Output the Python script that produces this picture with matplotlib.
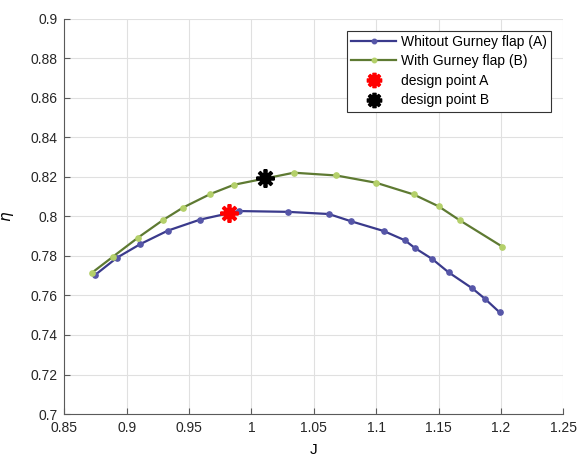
import numpy as np
import matplotlib.pyplot as plt

plt.rcParams['font.family'] = ['Liberation Sans', 'DejaVu Sans']

# efficiency curve without Gurney flap (A)
J_a = [0.875, 0.892, 0.911, 0.933, 0.959, 0.990, 1.029, 1.062, 1.080, 1.106,
       1.123, 1.131, 1.145, 1.158, 1.177, 1.187, 1.199]
eta_a = [0.7705, 0.7790, 0.7860, 0.7928, 0.7984, 0.8027, 0.8023, 0.8012, 0.7975,
         0.7926, 0.7879, 0.7840, 0.7784, 0.7717, 0.7636, 0.7584, 0.7514]

# efficiency curve with Gurney flap (B)
J_b = [0.872, 0.889, 0.909, 0.929, 0.945, 0.967, 0.986, 1.034, 1.068, 1.100,
       1.130, 1.150, 1.167, 1.201]
eta_b = [0.7714, 0.7796, 0.7892, 0.7981, 0.8044, 0.8113, 0.8160, 0.8221, 0.8207,
         0.8170, 0.8111, 0.8051, 0.7980, 0.7847]

design_a = (0.982, 0.8017)
design_b = (1.0105, 0.8195)

fig = plt.figure(figsize=(5.79, 4.57), dpi=100)
ax = fig.add_axes([0.111, 0.094, 0.862, 0.865])

ax.plot(J_a, eta_a, '-o', color='#3a3a8c', lw=1.6, ms=3.8,
        mfc='#5656a8', mec='#5656a8', label='Whitout Gurney flap (A)')
ax.plot(J_b, eta_b, '-o', color='#5e7a32', lw=1.6, ms=3.8,
        mfc='#b4d06a', mec='#b4d06a', label='With Gurney flap (B)')
ax.plot(*design_a, ls='none', marker=(8, 2, 0), color='red', ms=13, mew=2.7,
        label='design point A')
ax.plot(*design_b, ls='none', marker=(8, 2, 0), color='black', ms=13, mew=2.7,
        label='design point B')

ax.set_xlim(0.85, 1.25)
ax.set_ylim(0.7, 0.9)
ax.set_xticks(np.arange(0.85, 1.2501, 0.05))
ax.set_xticklabels(['0.85', '0.9', '0.95', '1', '1.05', '1.1', '1.15', '1.2', '1.25'])
ax.set_yticks(np.arange(0.7, 0.9001, 0.02))
ax.set_yticklabels(['0.7', '0.72', '0.74', '0.76', '0.78', '0.8', '0.82', '0.84',
                    '0.86', '0.88', '0.9'])
ax.grid(True, color='#e0e0e0', lw=0.8)
ax.set_axisbelow(True)
for s in ['top', 'right']:
    ax.spines[s].set_visible(False)
for s in ['left', 'bottom']:
    ax.spines[s].set_color('#5a5a5a')
ax.tick_params(direction='in', length=4, colors='#5a5a5a', labelcolor='#262626',
               labelsize=10, pad=5)
ax.set_xlabel('J', fontsize=11, labelpad=6)
ax.set_ylabel(r'$\eta$', fontsize=11, labelpad=10)

leg = ax.legend(loc='upper right', bbox_to_anchor=(0.976, 0.97), fontsize=10,
                fancybox=False, framealpha=1, edgecolor='#333333',
                handlelength=3.2, handletextpad=0.4, borderpad=0.3,
                labelspacing=0.4, borderaxespad=0, markerscale=0.85)
leg.get_frame().set_linewidth(0.8)

plt.savefig('out.png', dpi=100)
plt.close()
